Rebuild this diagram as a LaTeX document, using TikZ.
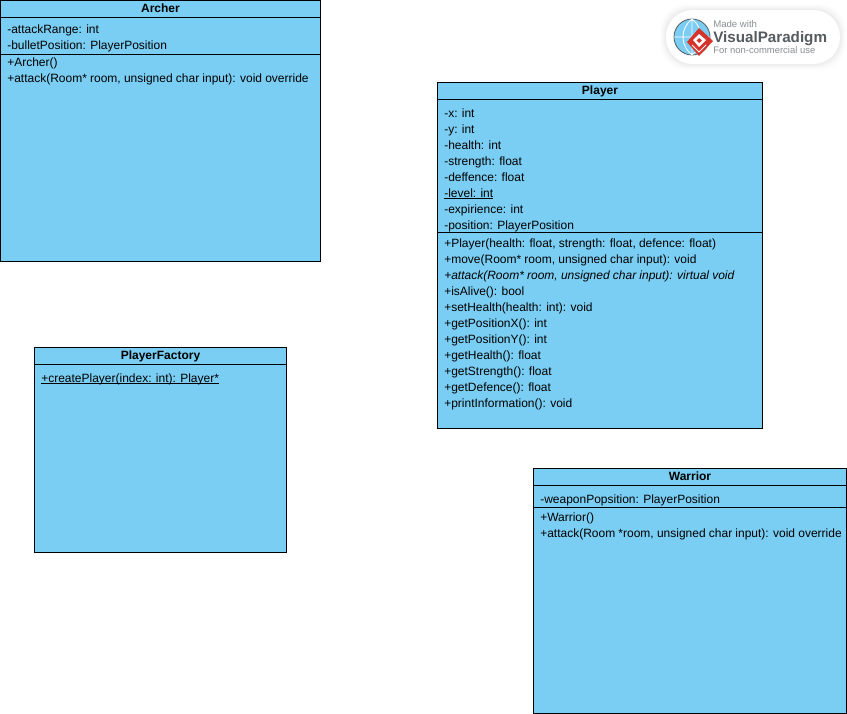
\documentclass[tikz,border=0pt]{standalone}
\usepackage{fontspec}
\setmainfont{Liberation Sans}
\definecolor{boxblue}{HTML}{7ACEF4}
\definecolor{logogray}{HTML}{555B5E}
\definecolor{logolight}{HTML}{8A8F92}
\definecolor{logored}{HTML}{D6332B}
\definecolor{globeblue}{HTML}{7CCDF4}
\newcommand{\umlunder}[1]{\setbox0\hbox{#1}\rlap{\rule[-1.3pt]{\wd0}{0.6pt}}\box0}
\newcommand{\umlfont}{\fontsize{9}{9}\selectfont\spaceskip 2.4pt\relax}
\tikzset{
    umlbox/.style={draw=black,fill=boxblue,line width=0.75pt,anchor=north west,inner sep=0pt,outer sep=0pt},
    umltitle/.style={font=\fontsize{9}{9}\selectfont\bfseries,anchor=base,inner sep=0pt},
    umlrow/.style={font=\umlfont,anchor=base west,inner sep=0pt},
    umlline/.style={draw=black,line width=0.75pt},
    logotext/.style={text=logolight,anchor=base west,inner sep=0pt}
}
\begin{document}
\begin{tikzpicture}[x=0.75pt,y=-0.75pt]
\useasboundingbox (0,0) rectangle (847,714);
\fill[white] (0,0) rectangle (847,714);

% Archer
\node[umlbox,minimum width=240pt,minimum height=195.4pt] (archer) at (0.5,0.5) {};
\node[umltitle] (archerT) at (160.5,12) {Archer};
\draw[umlline] (archer.west|-0,17.5) -- (archer.east|-0,17.5);
\draw[umlline] (archer.west|-0,54.5) -- (archer.east|-0,54.5);
\node[umlrow] (archerA1) at (7,33) {-attackRange: int};
\node[umlrow] (archerA2) at (7,49) {-bulletPosition: PlayerPosition};
\node[umlrow] (archerM1) at (7,66.5) {+Archer()};
\node[umlrow] (archerM2) at (7,82.5) {+attack(Room* room, unsigned char input): void override};

% Player
\node[umlbox,minimum width=243.75pt,minimum height=259.5pt] (player) at (437.5,82.5) {};
\node[umltitle] (playerT) at (600,94) {Player};
\draw[umlline] (player.west|-0,99.5) -- (player.east|-0,99.5);
\draw[umlline] (player.west|-0,232.5) -- (player.east|-0,232.5);
\foreach \i/\t in {0/-x: int,1/-y: int,2/-health: int,3/-strength: float,4/-deffence: float,
    5/\umlunder{-level: int},6/-expirience: int,7/-position: PlayerPosition}
{
    \node[umlrow] (playerA\i) at (444,117+\i*16) {\t};
}
\foreach \i/\t in {0/{+Player(health: float, strength: float, defence: float)},
    1/{+move(Room* room, unsigned char input): void},
    2/{\itshape +attack(Room* room, unsigned char input): virtual void},
    3/+isAlive(): bool,4/+setHealth(health: int): void,5/+getPositionX(): int,
    6/+getPositionY(): int,7/+getHealth(): float,8/+getStrength(): float,
    9/+getDefence(): float,10/+printInformation(): void}
{
    \node[umlrow] (playerM\i) at (444,247+\i*16) {\t};
}

% PlayerFactory
\node[umlbox,minimum width=189pt,minimum height=153.75pt] (factory) at (34.5,347.5) {};
\node[umltitle] (factoryT) at (160.5,359) {PlayerFactory};
\draw[umlline] (factory.west|-0,364.5) -- (factory.east|-0,364.5);
\node[umlrow] (factoryM1) at (41,382) {\umlunder{+createPlayer(index: int): Player*}};

% Warrior
\node[umlbox,minimum width=234.75pt,minimum height=183.75pt] (warrior) at (533.5,468.5) {};
\node[umltitle] (warriorT) at (690,480) {Warrior};
\draw[umlline] (warrior.west|-0,485.5) -- (warrior.east|-0,485.5);
\draw[umlline] (warrior.west|-0,507.5) -- (warrior.east|-0,507.5);
\node[umlrow] (warriorA1) at (540,503) {-weaponPopsition: PlayerPosition};
\node[umlrow] (warriorM1) at (540,521) {+Warrior()};
\node[umlrow] (warriorM2) at (540,537) {+attack(Room *room, unsigned char input): void override};

% logo
\foreach \g/\o in {6/0.006,5/0.008,4/0.01,3/0.012,2/0.014,1/0.016}
{
    \fill[black,opacity=\o,rounded corners=20pt] (666-\g,10-\g) rectangle (840+\g,64+\g);
}
\fill[white,rounded corners=20pt] (666,10) rectangle (840,64);
\fill[globeblue] (692,37) circle[radius=13.5pt];
\draw[logogray,line width=0.6pt] (692,37) circle[radius=13.5pt];
\draw[white,line width=0.6pt] (674,37) -- (710,37) (692,19) -- (692,55)
    (692,19) .. controls (680,28) and (680,46) .. (692,55)
    (692,19) .. controls (704,28) and (704,46) .. (692,55);
\fill[logored] (699,28) -- (713,41) -- (699,56) -- (687,42) -- cycle;
\fill[white] (699,34) -- (706,40) -- (699,47) -- (693,40) -- cycle;
\fill[logored] (699,38) -- (702,40.5) -- (699,43) -- (696.5,40.5) -- cycle;
\draw[white,line width=0.7pt] (692,45) -- (699,52) -- (706,45);
\node[logotext,font=\fontsize{7.2}{7.2}\selectfont] (logoA) at (713,27) {Made with};
\node[logotext,text=logogray,font=\fontsize{11.4}{11.4}\selectfont\bfseries] (logoB) at (713,42) {VisualParadigm};
\node[logotext,font=\fontsize{7.1}{7.1}\selectfont] (logoC) at (713,53) {For non-commercial use};
\end{tikzpicture}
\end{document}
